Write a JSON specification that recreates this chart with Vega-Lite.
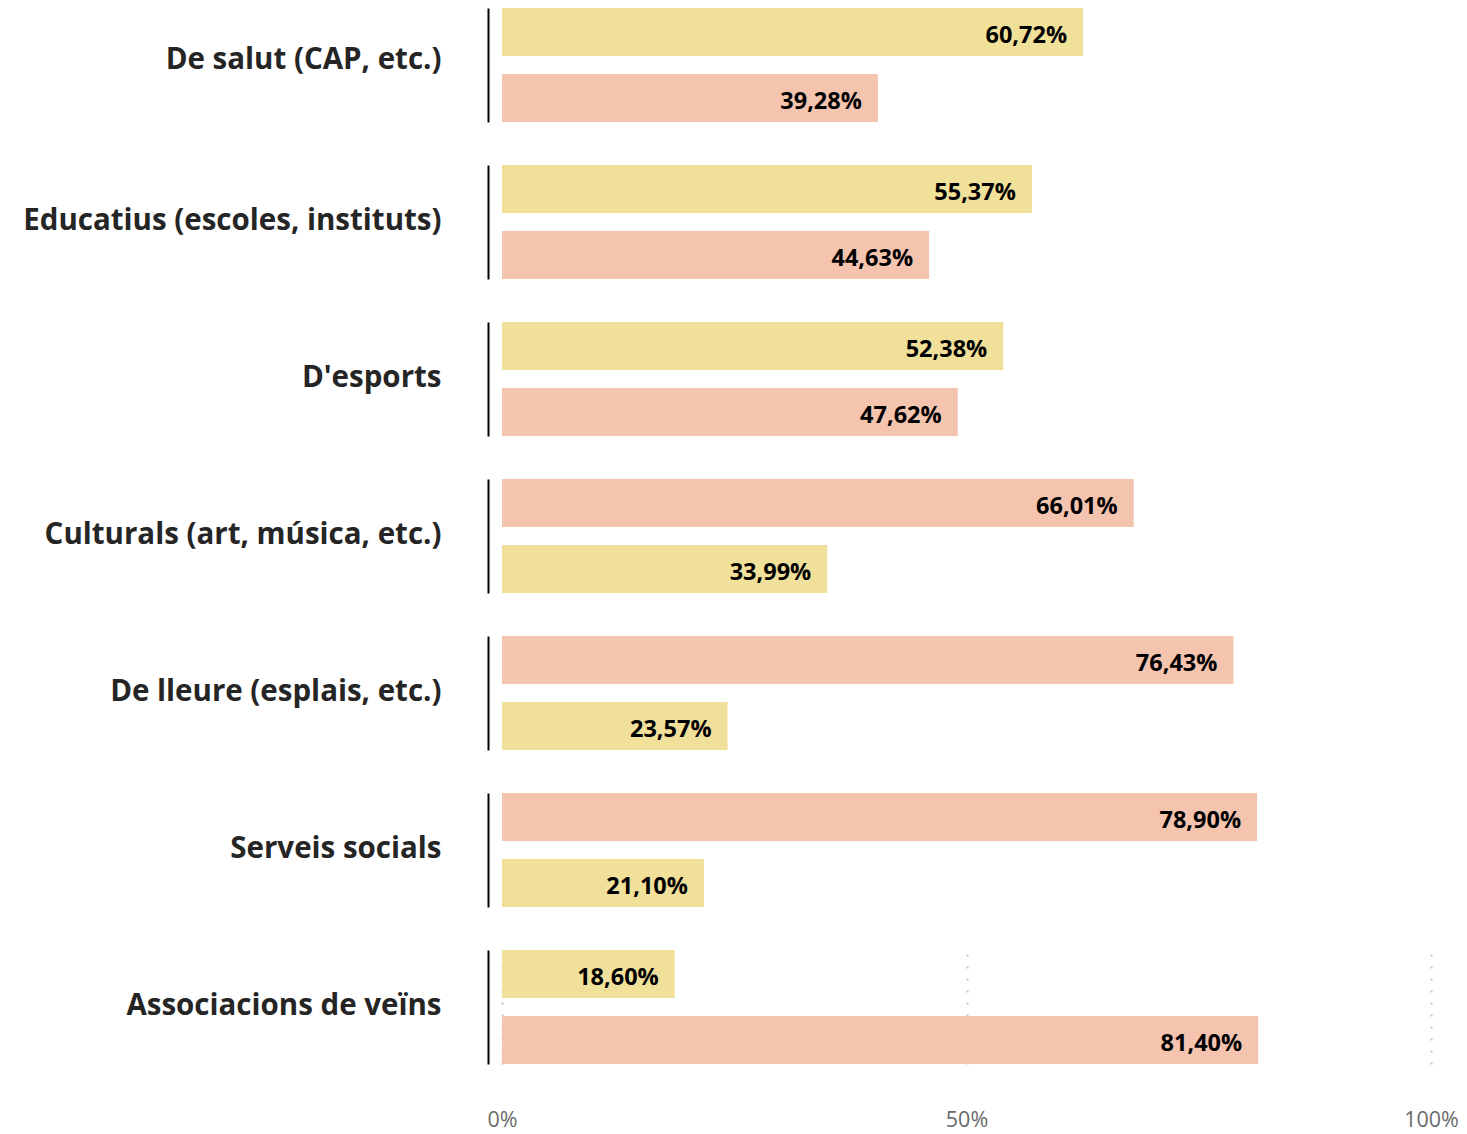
{
  "$schema": "https://vega.github.io/schema/vega-lite/v6.json",
  "padding": {"left": 22, "top": 8, "right": 5, "bottom": 0},
  "background": "white",
  "data": {"values": [
    {"categoria": "De salut (CAP, etc.)", "serie": "A", "valor": 0.6072},
    {"categoria": "De salut (CAP, etc.)", "serie": "B", "valor": 0.3928},
    {"categoria": "Educatius (escoles, instituts)", "serie": "A", "valor": 0.5537},
    {"categoria": "Educatius (escoles, instituts)", "serie": "B", "valor": 0.4463},
    {"categoria": "D'esports", "serie": "A", "valor": 0.5238},
    {"categoria": "D'esports", "serie": "B", "valor": 0.4762},
    {"categoria": "Culturals (art, música, etc.)", "serie": "B", "valor": 0.6601},
    {"categoria": "Culturals (art, música, etc.)", "serie": "A", "valor": 0.3399},
    {"categoria": "De lleure (esplais, etc.)", "serie": "B", "valor": 0.7643},
    {"categoria": "De lleure (esplais, etc.)", "serie": "A", "valor": 0.2357},
    {"categoria": "Serveis socials", "serie": "B", "valor": 0.789},
    {"categoria": "Serveis socials", "serie": "A", "valor": 0.211},
    {"categoria": "Associacions de veïns", "serie": "A", "valor": 0.186},
    {"categoria": "Associacions de veïns", "serie": "B", "valor": 0.814}
  ]},
  "spacing": 43,
  "resolve": {"scale": {"x": "independent", "y": "independent", "color": "shared"}},
  "vconcat": [
    {
      "width": 957, "height": 114,
      "transform": [{"filter": {"field": "categoria", "equal": "De salut (CAP, etc.)"}}],
      "encoding": {
        "y": {"field": "serie", "type": "nominal", "sort": ["A", "B"], "scale": {"paddingInner": 0.27, "paddingOuter": 0}, "axis": {"title": "De salut (CAP, etc.)", "titleY": 51}},
        "x": {"field": "valor", "type": "quantitative", "scale": {"domain": [0, 1]}, "axis": null}
      },
      "layer": [
        {"mark": {"type": "bar"}, "encoding": {"color": {"field": "serie", "type": "nominal", "scale": {"domain": ["A", "B"], "range": ["#F0E09A", "#F4C4AF"]}, "legend": null}}},
        {"mark": {"type": "text", "align": "right", "baseline": "middle", "dx": -16, "dy": 4, "fontWeight": "bold", "fontSize": 23.5, "font": "Open Sans", "color": "black"}, "encoding": {"text": {"field": "valor", "type": "quantitative", "format": ".2%"}}}
      ]
    },
    {
      "width": 957, "height": 114,
      "transform": [{"filter": {"field": "categoria", "equal": "Educatius (escoles, instituts)"}}],
      "encoding": {
        "y": {"field": "serie", "type": "nominal", "sort": ["A", "B"], "scale": {"paddingInner": 0.27, "paddingOuter": 0}, "axis": {"title": "Educatius (escoles, instituts)"}},
        "x": {"field": "valor", "type": "quantitative", "scale": {"domain": [0, 1]}, "axis": null}
      },
      "layer": [
        {"mark": {"type": "bar"}, "encoding": {"color": {"field": "serie", "type": "nominal", "scale": {"domain": ["A", "B"], "range": ["#F0E09A", "#F4C4AF"]}, "legend": null}}},
        {"mark": {"type": "text", "align": "right", "baseline": "middle", "dx": -16, "dy": 4, "fontWeight": "bold", "fontSize": 23.5, "font": "Open Sans", "color": "black"}, "encoding": {"text": {"field": "valor", "type": "quantitative", "format": ".2%"}}}
      ]
    },
    {
      "width": 957, "height": 114,
      "transform": [{"filter": {"field": "categoria", "equal": "D'esports"}}],
      "encoding": {
        "y": {"field": "serie", "type": "nominal", "sort": ["A", "B"], "scale": {"paddingInner": 0.27, "paddingOuter": 0}, "axis": {"title": "D'esports"}},
        "x": {"field": "valor", "type": "quantitative", "scale": {"domain": [0, 1]}, "axis": null}
      },
      "layer": [
        {"mark": {"type": "bar"}, "encoding": {"color": {"field": "serie", "type": "nominal", "scale": {"domain": ["A", "B"], "range": ["#F0E09A", "#F4C4AF"]}, "legend": null}}},
        {"mark": {"type": "text", "align": "right", "baseline": "middle", "dx": -16, "dy": 4, "fontWeight": "bold", "fontSize": 23.5, "font": "Open Sans", "color": "black"}, "encoding": {"text": {"field": "valor", "type": "quantitative", "format": ".2%"}}}
      ]
    },
    {
      "width": 957, "height": 114,
      "transform": [{"filter": {"field": "categoria", "equal": "Culturals (art, música, etc.)"}}],
      "encoding": {
        "y": {"field": "serie", "type": "nominal", "sort": ["B", "A"], "scale": {"paddingInner": 0.27, "paddingOuter": 0}, "axis": {"title": "Culturals (art, música, etc.)"}},
        "x": {"field": "valor", "type": "quantitative", "scale": {"domain": [0, 1]}, "axis": null}
      },
      "layer": [
        {"mark": {"type": "bar"}, "encoding": {"color": {"field": "serie", "type": "nominal", "scale": {"domain": ["A", "B"], "range": ["#F0E09A", "#F4C4AF"]}, "legend": null}}},
        {"mark": {"type": "text", "align": "right", "baseline": "middle", "dx": -16, "dy": 4, "fontWeight": "bold", "fontSize": 23.5, "font": "Open Sans", "color": "black"}, "encoding": {"text": {"field": "valor", "type": "quantitative", "format": ".2%"}}}
      ]
    },
    {
      "width": 957, "height": 114,
      "transform": [{"filter": {"field": "categoria", "equal": "De lleure (esplais, etc.)"}}],
      "encoding": {
        "y": {"field": "serie", "type": "nominal", "sort": ["B", "A"], "scale": {"paddingInner": 0.27, "paddingOuter": 0}, "axis": {"title": "De lleure (esplais, etc.)"}},
        "x": {"field": "valor", "type": "quantitative", "scale": {"domain": [0, 1]}, "axis": null}
      },
      "layer": [
        {"mark": {"type": "bar"}, "encoding": {"color": {"field": "serie", "type": "nominal", "scale": {"domain": ["A", "B"], "range": ["#F0E09A", "#F4C4AF"]}, "legend": null}}},
        {"mark": {"type": "text", "align": "right", "baseline": "middle", "dx": -16, "dy": 4, "fontWeight": "bold", "fontSize": 23.5, "font": "Open Sans", "color": "black"}, "encoding": {"text": {"field": "valor", "type": "quantitative", "format": ".2%"}}}
      ]
    },
    {
      "width": 957, "height": 114,
      "transform": [{"filter": {"field": "categoria", "equal": "Serveis socials"}}],
      "encoding": {
        "y": {"field": "serie", "type": "nominal", "sort": ["B", "A"], "scale": {"paddingInner": 0.27, "paddingOuter": 0}, "axis": {"title": "Serveis socials"}},
        "x": {"field": "valor", "type": "quantitative", "scale": {"domain": [0, 1]}, "axis": null}
      },
      "layer": [
        {"mark": {"type": "bar"}, "encoding": {"color": {"field": "serie", "type": "nominal", "scale": {"domain": ["A", "B"], "range": ["#F0E09A", "#F4C4AF"]}, "legend": null}}},
        {"mark": {"type": "text", "align": "right", "baseline": "middle", "dx": -16, "dy": 4, "fontWeight": "bold", "fontSize": 23.5, "font": "Open Sans", "color": "black"}, "encoding": {"text": {"field": "valor", "type": "quantitative", "format": ".2%"}}}
      ]
    },
    {
      "width": 929, "height": 114,
      "transform": [{"filter": {"field": "categoria", "equal": "Associacions de veïns"}}],
      "encoding": {
        "y": {"field": "serie", "type": "nominal", "sort": ["A", "B"], "scale": {"paddingInner": 0.27, "paddingOuter": 0}, "axis": {"title": "Associacions de veïns"}},
        "x": {"field": "valor", "type": "quantitative", "scale": {"domain": [0, 1]}, "axis": {"values": [0, 0.5, 1], "format": ".0%", "title": null, "grid": true, "gridDash": [2, 10], "gridColor": "#c4c4c4", "gridWidth": 2, "domain": false, "ticks": false, "labelFontSize": 21.5, "labelFont": "Open Sans", "labelColor": "#6a6a6a", "labelPadding": 45, "labelFlush": false}}
      },
      "layer": [
        {"mark": {"type": "bar"}, "encoding": {"color": {"field": "serie", "type": "nominal", "scale": {"domain": ["A", "B"], "range": ["#F0E09A", "#F4C4AF"]}, "legend": null}}},
        {"mark": {"type": "text", "align": "right", "baseline": "middle", "dx": -16, "dy": 4, "fontWeight": "bold", "fontSize": 23.5, "font": "Open Sans", "color": "black"}, "encoding": {"text": {"field": "valor", "type": "quantitative", "format": ".2%"}}}
      ]
    }
  ],
  "config": {
    "locale": {"number": {"decimal": ",", "thousands": ".", "grouping": [3], "currency": ["", " €"]}},
    "view": {"stroke": null},
    "axisY": {
      "labels": false, "ticks": false, "grid": false,
      "domainColor": "#000000", "domainWidth": 2, "offset": 14,
      "titleAngle": 0, "titleAlign": "right", "titleBaseline": "middle",
      "titleX": -47, "titleY": 55,
      "titleFontSize": 29.5, "titleFontWeight": "bold", "titleFont": "Open Sans", "titleColor": "#252525"
    }
  }
}
